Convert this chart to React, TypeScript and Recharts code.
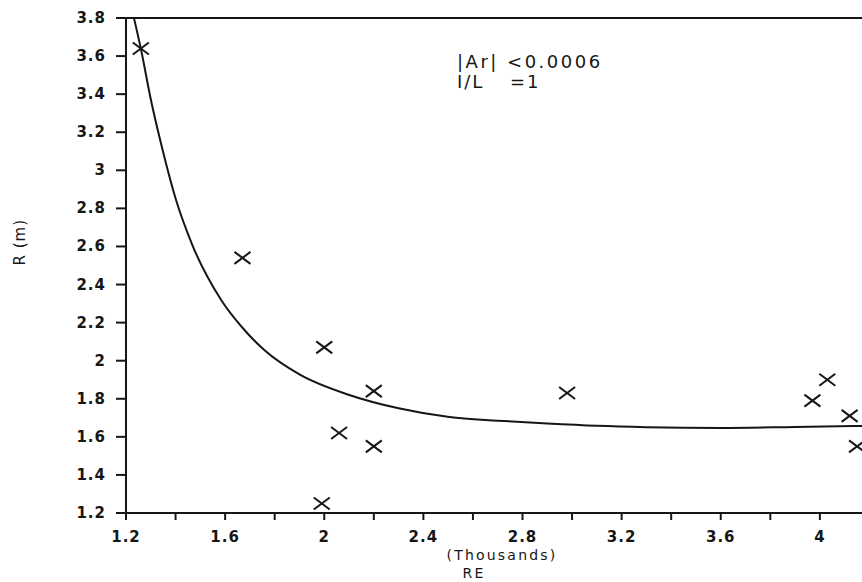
import { ScatterChart, Scatter, XAxis, YAxis, ReferenceLine, Label } from "recharts";

// measured points (RE in thousands, R in m)
const reValues = [1.26, 1.67, 2.0, 2.2, 2.06, 2.2, 1.99, 2.98, 3.97, 4.03, 4.12, 4.15];
const rValues = [3.64, 2.54, 2.07, 1.84, 1.62, 1.55, 1.25, 1.83, 1.79, 1.9, 1.71, 1.55];

// fitted curve
const fitRe = [1.232, 1.261, 1.3, 1.35, 1.402, 1.467, 1.584, 1.67, 1.758, 1.9, 2.101, 2.3, 2.505, 2.7, 2.9, 3.1, 3.3, 3.6, 3.9, 4.17];
const fitR = [3.8, 3.632, 3.373, 3.095, 2.844, 2.61, 2.319, 2.173, 2.056, 1.928, 1.82, 1.75, 1.704, 1.685, 1.67, 1.658, 1.651, 1.647, 1.652, 1.657];

const xTicks = [1.2, 1.4, 1.6, 1.8, 2.0, 2.2, 2.4, 2.6, 2.8, 3.0, 3.2, 3.4, 3.6, 3.8, 4.0];
const xLabelled = [1.2, 1.6, 2.0, 2.4, 2.8, 3.2, 3.6, 4.0];
const yTicks = [1.2, 1.4, 1.6, 1.8, 2.0, 2.2, 2.4, 2.6, 2.8, 3.0, 3.2, 3.4, 3.6, 3.8];

const points = reValues.map((x, i) => ({ x, y: rValues[i] }));
const fit = fitRe.map((x, i) => ({ x, y: fitR[i] }));

const ink = "#161616";
const font = "'DejaVu Sans', sans-serif";

const fmt = (v: number) => String(Number(v.toFixed(1)));

const Cross = (props: any) => {
	const { cx, cy } = props;
	return (
		<g stroke={ink} strokeWidth={2}>
			<line x1={cx - 8} y1={cy - 6} x2={cx + 8} y2={cy + 6} />
			<line x1={cx - 8} y1={cy + 6} x2={cx + 8} y2={cy - 6} />
		</g>
	);
};

const XTick = (props: any) => {
	const { x, y, payload } = props;
	const show = xLabelled.some((t) => Math.abs(t - payload.value) < 1e-6);
	if (!show) return null;
	return (
		<text x={x} y={y} dy={11} textAnchor="middle" fontFamily={font} fontSize={15} fontWeight="bold" letterSpacing={1} fill={ink}>
			{fmt(payload.value)}
		</text>
	);
};

const YTick = (props: any) => {
	const { x, y, payload } = props;
	return (
		<text x={x} y={y} dy={5} textAnchor="end" fontFamily={font} fontSize={15} fontWeight="bold" letterSpacing={1} fill={ink}>
			{fmt(payload.value)}
		</text>
	);
};

const XTitle = (props: any) => {
	const { viewBox } = props;
	const cx = viewBox.x + viewBox.width / 2;
	return (
		<g fontFamily={font} fill={ink} fontSize={14} letterSpacing={2.2} textAnchor="middle">
			<text x={cx + 8} y={560}>(Thousands)</text>
			<text x={cx - 20} y={578}>RE</text>
		</g>
	);
};

export default function App() {
	return (
		<div style={{ position: "absolute", left: 0, top: 0, width: 862, height: 582, overflow: "hidden", background: "#fff" }}>
			<ScatterChart width={862} height={582} margin={{ top: 18, right: 0, left: 0, bottom: 29 }}>
				<XAxis
					type="number"
					dataKey="x"
					domain={[1.2, 4.17]}
					allowDataOverflow
					ticks={xTicks}
					tick={<XTick />}
					tickSize={7}
					tickMargin={11}
					height={40}
					axisLine={{ stroke: ink, strokeWidth: 2 }}
					tickLine={{ stroke: ink, strokeWidth: 2 }}
					interval={0}
				>
					<Label content={<XTitle />} position="bottom" />
				</XAxis>
				<YAxis
					type="number"
					dataKey="y"
					domain={[1.2, 3.8]}
					allowDataOverflow
					ticks={yTicks}
					tick={<YTick />}
					tickSize={10}
					tickMargin={10}
					width={126}
					axisLine={{ stroke: ink, strokeWidth: 2 }}
					tickLine={{ stroke: ink, strokeWidth: 2 }}
					interval={0}
				>
					<Label
						value="R (m)"
						angle={-90}
						position="insideLeft"
						offset={20}
						style={{ fontFamily: font, fontSize: 15, fill: ink, letterSpacing: 1 }}
					/>
				</YAxis>
				<ReferenceLine y={3.8} stroke={ink} strokeWidth={2} />
				<Scatter
					data={fit}
					line={{ stroke: ink, strokeWidth: 2 }}
					lineJointType="monotoneX"
					shape={() => <g />}
					isAnimationActive={false}
				/>
				<Scatter data={points} shape={<Cross />} isAnimationActive={false} />
				<text x={457} y={68} fontFamily={font} fontSize={18} letterSpacing={2.5} fill={ink}>
					|Ar| &lt;0.0006
				</text>
				<text fontFamily={font} fontSize={18} letterSpacing={2} fill={ink}>
					<tspan x={457} y={88}>I/L</tspan>
					<tspan x={510} y={88}>=1</tspan>
				</text>
			</ScatterChart>
		</div>
	);
}
